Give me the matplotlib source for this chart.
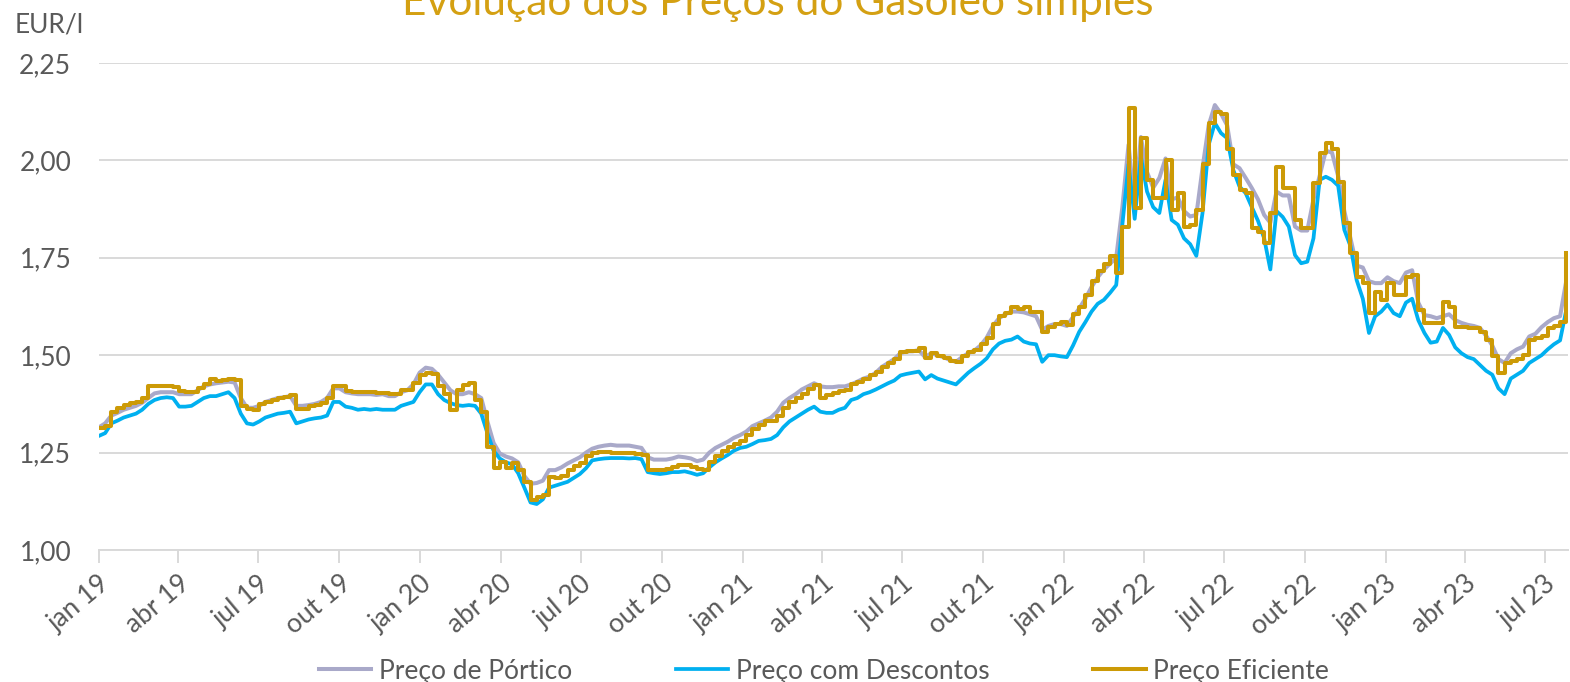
import matplotlib
matplotlib.use("Agg")
import matplotlib.pyplot as plt
import pandas as pd
from matplotlib.ticker import FuncFormatter

plt.rcParams['font.family'] = ['Lato', 'DejaVu Sans']

# weekly prices, EUR/l, from first week of jan 2019
portico = [
    1.315, 1.325, 1.345, 1.352, 1.360, 1.365, 1.370, 1.378, 1.390, 1.402,
    1.405, 1.405, 1.405, 1.400, 1.400, 1.400, 1.410, 1.420, 1.425, 1.428,
    1.430, 1.432, 1.430, 1.390, 1.365, 1.365, 1.370, 1.380, 1.385, 1.390,
    1.392, 1.395, 1.370, 1.370, 1.372, 1.375, 1.380, 1.390, 1.415, 1.415,
    1.405, 1.402, 1.400, 1.400, 1.400, 1.398, 1.400, 1.395, 1.395, 1.405,
    1.410, 1.425, 1.455, 1.468, 1.465, 1.450, 1.430, 1.410, 1.400, 1.400,
    1.405, 1.400, 1.390, 1.330, 1.275, 1.248, 1.240, 1.235, 1.225, 1.190,
    1.170, 1.172, 1.178, 1.205, 1.205, 1.212, 1.222, 1.230, 1.238, 1.250,
    1.260, 1.265, 1.268, 1.270, 1.268, 1.268, 1.268, 1.265, 1.262, 1.238,
    1.232, 1.232, 1.232, 1.235, 1.240, 1.238, 1.235, 1.228, 1.232, 1.250,
    1.262, 1.270, 1.278, 1.288, 1.295, 1.304, 1.318, 1.325, 1.332, 1.340,
    1.355, 1.378, 1.390, 1.400, 1.412, 1.420, 1.428, 1.420, 1.418, 1.418,
    1.420, 1.420, 1.425, 1.432, 1.440, 1.445, 1.455, 1.470, 1.480, 1.490,
    1.505, 1.510, 1.510, 1.513, 1.495, 1.505, 1.500, 1.495, 1.488, 1.483,
    1.495, 1.505, 1.512, 1.525, 1.545, 1.575, 1.595, 1.605, 1.612, 1.612,
    1.610, 1.605, 1.600, 1.565, 1.575, 1.580, 1.580, 1.575, 1.598, 1.620,
    1.645, 1.675, 1.700, 1.720, 1.735, 1.750, 1.880, 2.040, 1.880, 2.060,
    1.970, 1.930, 1.955, 2.005, 1.900, 1.905, 1.870, 1.856, 1.860, 1.980,
    2.090, 2.142, 2.120, 2.090, 1.990, 1.980, 1.955, 1.929, 1.900, 1.860,
    1.840, 1.920, 1.910, 1.910, 1.830, 1.820, 1.820, 1.900, 1.960, 2.025,
    2.020, 1.960, 1.870, 1.800, 1.730, 1.725, 1.690, 1.685, 1.685, 1.700,
    1.690, 1.685, 1.712, 1.718, 1.635, 1.603, 1.600, 1.595, 1.600, 1.605,
    1.590, 1.583, 1.578, 1.575, 1.570, 1.550, 1.525, 1.490, 1.480, 1.505,
    1.515, 1.522, 1.548, 1.555, 1.572, 1.585, 1.595, 1.600, 1.690,
]

descontos = [
    1.293, 1.300, 1.325, 1.332, 1.340, 1.345, 1.350, 1.360, 1.375, 1.385,
    1.390, 1.392, 1.390, 1.368, 1.368, 1.370, 1.380, 1.390, 1.395, 1.395,
    1.400, 1.405, 1.390, 1.350, 1.325, 1.322, 1.330, 1.340, 1.345, 1.350,
    1.352, 1.355, 1.325, 1.330, 1.335, 1.338, 1.340, 1.345, 1.380, 1.380,
    1.368, 1.365, 1.360, 1.362, 1.360, 1.362, 1.360, 1.360, 1.360, 1.370,
    1.375, 1.380, 1.405, 1.425, 1.425, 1.400, 1.385, 1.377, 1.372, 1.370,
    1.372, 1.370, 1.350, 1.300, 1.255, 1.235, 1.225, 1.220, 1.197, 1.160,
    1.122, 1.118, 1.130, 1.160, 1.165, 1.170, 1.175, 1.185, 1.195, 1.210,
    1.230, 1.233, 1.235, 1.236, 1.236, 1.236, 1.235, 1.236, 1.233, 1.200,
    1.197, 1.195, 1.197, 1.200, 1.200, 1.202, 1.198, 1.193, 1.197, 1.212,
    1.225, 1.235, 1.244, 1.255, 1.262, 1.265, 1.272, 1.280, 1.282, 1.285,
    1.295, 1.315, 1.330, 1.340, 1.350, 1.360, 1.368, 1.355, 1.352, 1.352,
    1.360, 1.365, 1.385, 1.390, 1.400, 1.405, 1.412, 1.420, 1.428, 1.435,
    1.448, 1.452, 1.455, 1.458, 1.438, 1.449, 1.440, 1.435, 1.430, 1.425,
    1.440, 1.455, 1.467, 1.478, 1.492, 1.515, 1.530, 1.537, 1.540, 1.548,
    1.535, 1.530, 1.528, 1.483, 1.500, 1.500, 1.497, 1.495, 1.525, 1.560,
    1.585, 1.612, 1.632, 1.642, 1.660, 1.680, 1.835, 1.990, 1.850, 2.010,
    1.920, 1.880, 1.865, 1.950, 1.847, 1.835, 1.800, 1.785, 1.755, 1.865,
    2.040, 2.096, 2.070, 2.057, 1.975, 1.933, 1.916, 1.880, 1.845, 1.800,
    1.720, 1.870, 1.855, 1.830, 1.757, 1.736, 1.740, 1.800, 1.950, 1.958,
    1.950, 1.935, 1.822, 1.780, 1.693, 1.645, 1.557, 1.600, 1.612, 1.630,
    1.608, 1.600, 1.635, 1.645, 1.590, 1.557, 1.532, 1.535, 1.570, 1.552,
    1.520, 1.505, 1.495, 1.490, 1.475, 1.460, 1.450, 1.415, 1.400, 1.440,
    1.450, 1.460, 1.480, 1.490, 1.500, 1.515, 1.528, 1.538, 1.616,
]

eficiente = [
    1.312, 1.318, 1.355, 1.365, 1.372, 1.378, 1.380, 1.390, 1.420, 1.420,
    1.420, 1.420, 1.418, 1.408, 1.405, 1.405, 1.415, 1.425, 1.440, 1.435,
    1.437, 1.440, 1.437, 1.370, 1.362, 1.360, 1.375, 1.380, 1.385, 1.390,
    1.392, 1.397, 1.362, 1.362, 1.370, 1.372, 1.378, 1.390, 1.420, 1.420,
    1.408, 1.406, 1.406, 1.405, 1.405, 1.404, 1.402, 1.400, 1.400, 1.410,
    1.410, 1.428, 1.450, 1.455, 1.452, 1.420, 1.400, 1.360, 1.410, 1.423,
    1.428, 1.385, 1.355, 1.265, 1.210, 1.227, 1.210, 1.223, 1.205, 1.175,
    1.128, 1.135, 1.141, 1.188, 1.185, 1.190, 1.205, 1.215, 1.223, 1.240,
    1.248, 1.252, 1.252, 1.250, 1.249, 1.249, 1.249, 1.247, 1.244, 1.205,
    1.205, 1.205, 1.208, 1.212, 1.218, 1.218, 1.213, 1.207, 1.205, 1.227,
    1.242, 1.255, 1.265, 1.272, 1.280, 1.295, 1.310, 1.320, 1.330, 1.330,
    1.345, 1.365, 1.380, 1.390, 1.400, 1.412, 1.423, 1.390, 1.398, 1.404,
    1.408, 1.410, 1.425, 1.432, 1.440, 1.448, 1.458, 1.470, 1.480, 1.490,
    1.508, 1.510, 1.512, 1.518, 1.493, 1.505, 1.498, 1.493, 1.486, 1.483,
    1.498, 1.508, 1.513, 1.528, 1.545, 1.580, 1.600, 1.608, 1.625, 1.618,
    1.625, 1.610, 1.612, 1.560, 1.573, 1.580, 1.586, 1.578, 1.605, 1.625,
    1.655, 1.690, 1.715, 1.735, 1.755, 1.710, 1.830, 2.135, 1.878, 2.057,
    1.950, 1.904, 1.904, 2.000, 1.873, 1.916, 1.830, 1.835, 1.873, 1.990,
    2.096, 2.125, 2.120, 2.030, 1.962, 1.924, 1.916, 1.827, 1.817, 1.788,
    1.865, 1.984, 1.929, 1.929, 1.847, 1.827, 1.827, 1.942, 2.020, 2.045,
    2.030, 1.945, 1.840, 1.762, 1.700, 1.685, 1.608, 1.663, 1.642, 1.685,
    1.655, 1.655, 1.700, 1.706, 1.616, 1.582, 1.582, 1.582, 1.637, 1.625,
    1.573, 1.573, 1.570, 1.570, 1.560, 1.539, 1.497, 1.454, 1.480, 1.485,
    1.490, 1.500, 1.539, 1.545, 1.550, 1.570, 1.575, 1.585, 1.763,
]

meses = ['jan', 'abr', 'jul', 'out']
quarters = pd.date_range('2019-01-01', '2023-07-01', freq='QS')
tick_labels = [meses[(d.month - 1) // 3] + ' ' + d.strftime('%y') for d in quarters]

dates = pd.date_range('2019-01-01', periods=len(portico), freq='7D')

grey = '#A9A9C9'
blue = '#00B0F0'
gold = '#CC9A06'
txt = '#595959'
gridc = '#D9D9D9'

fig = plt.figure(figsize=(15.7, 6.82), dpi=100)
ax = fig.add_axes([99 / 1570, 1 - 550 / 682, (1568 - 99) / 1570, (550 - 63) / 682])

ax.plot(dates, portico, color=grey, lw=2.9, label='Preço de Pórtico', zorder=3)
ax.plot(dates, descontos, color=blue, lw=2.7, label='Preço com Descontos', zorder=4)
ax.plot(dates, eficiente, color=gold, lw=2.9, drawstyle='steps-post',
        label='Preço Eficiente', zorder=5)

ax.set_xlim(dates[0], dates[-1] + pd.Timedelta(days=2))
ax.set_ylim(1.0, 2.25)
ax.set_yticks([1.00, 1.25, 1.50, 1.75, 2.00, 2.25])
ax.yaxis.set_major_formatter(FuncFormatter(lambda v, p: f'{v:.2f}'.replace('.', ',')))
ax.grid(axis='y', color=gridc, lw=1.4)
ax.set_axisbelow(True)

ax.set_xticks(quarters)
ax.set_xticklabels(tick_labels, rotation=40, ha='right', rotation_mode='anchor')

for s in ['top', 'right', 'left']:
    ax.spines[s].set_visible(False)
ax.spines['bottom'].set_color(gridc)
ax.spines['bottom'].set_linewidth(1.4)

ax.tick_params(axis='x', length=9, width=1.4, color=gridc, labelcolor=txt,
               labelsize=19, pad=6)
ax.tick_params(axis='y', length=0, labelcolor=txt, labelsize=19, pad=20)

fig.text(15 / 1570, 1 - 33 / 682, 'EUR/l', color=txt, fontsize=19, va='baseline')
fig.text(778 / 1570, 1 - 15 / 682, 'Evolução dos Preços do Gasóleo simples',
         color='#D4A012', fontsize=30.5, ha='center', va='baseline')

fig.legend(loc='center', bbox_to_anchor=(824 / 1570, 1 - 671 / 682), ncol=3,
           frameon=False, fontsize=19, labelcolor=txt, handlelength=2.0,
           handletextpad=0.3, columnspacing=3.9)

fig.savefig('out.png', dpi=100)
